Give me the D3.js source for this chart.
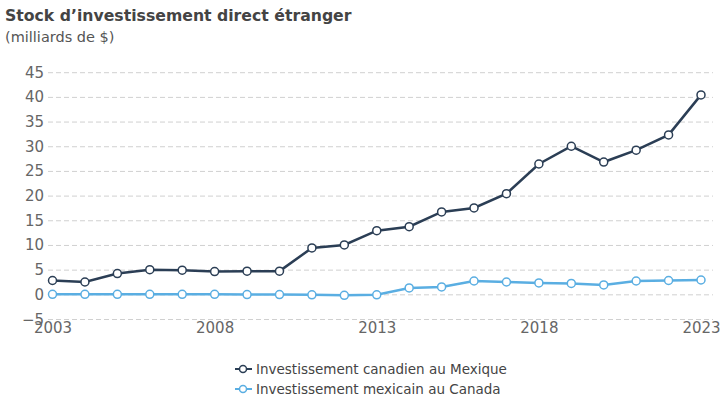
<!DOCTYPE html>
<html><head><meta charset="utf-8">
<script src="https://cdn.jsdelivr.net/npm/d3@7"></script>
<style>
body{margin:0;background:#fff;}
svg{display:block;font-family:"DejaVu Sans",Verdana,sans-serif;}
</style></head>
<body><svg id="c" width="722" height="402"></svg>
<script>
const years = [2003,2004,2005,2006,2007,2008,2009,2010,2011,2012,2013,2014,2015,2016,2017,2018,2019,2020,2021,2022,2023];
const canInMex = [2.9,2.6,4.3,5.1,5.0,4.7,4.8,4.8,9.5,10.1,13.0,13.8,16.8,17.6,20.5,26.5,30.1,26.9,29.3,32.4,40.5];
const mexInCan = [0.1,0.1,0.1,0.1,0.1,0.1,0.05,0.05,0.0,-0.1,0.0,1.4,1.6,2.8,2.6,2.4,2.3,2.0,2.8,2.9,3.0];
const yTicks = [-5,0,5,10,15,20,25,30,35,40,45];
const xTicks = [2003,2008,2013,2018,2023];
const seriesNames = ["Investissement canadien au Mexique","Investissement mexicain au Canada"];
const colors = ["#2b3e55","#5aaee2"];

const svg = d3.select("#c");
const x = d3.scaleLinear().domain([2003,2023]).range([52.5,701]);
const y = d3.scaleLinear().domain([-5,45]).range([319.5,72.7]);

svg.append("text").attr("x",5).attr("y",21).attr("font-size",15.7).attr("font-weight","bold").attr("fill","#444")
  .text("Stock d\u2019investissement direct étranger");
svg.append("text").attr("x",5).attr("y",42).attr("font-size",14.5).attr("fill","#555")
  .text("(milliards de $)");

// grid
svg.append("g").selectAll("line").data(yTicks).join("line")
  .attr("x1",48).attr("x2",713).attr("y1",d=>y(d)).attr("y2",d=>y(d))
  .attr("stroke","#d0d0d0").attr("stroke-width",1).attr("stroke-dasharray","5,3");

// y axis
const ya = svg.append("g").attr("transform","translate(44,0)")
  .call(d3.axisLeft(y).tickValues(yTicks).tickSize(0).tickPadding(0));
ya.select(".domain").remove();
ya.selectAll("text").attr("font-size",15).attr("fill","#666").attr("font-family","DejaVu Sans, sans-serif").attr("dy","0.3em");

// x axis
const xa = svg.append("g").attr("transform","translate(0,322)")
  .call(d3.axisBottom(x).tickValues(xTicks).tickFormat(d3.format("d")).tickSize(0).tickPadding(0));
xa.select(".domain").remove();
xa.selectAll("text").attr("font-size",15).attr("fill","#666").attr("font-family","DejaVu Sans, sans-serif").attr("dy","0.72em");

const series = [canInMex, mexInCan];
const line = d3.line().x((d,i)=>x(years[i])).y(d=>y(d));
[1,0].forEach(s=>{
  const g = svg.append("g");
  g.append("path").datum(series[s]).attr("d",line).attr("fill","none")
    .attr("stroke",colors[s]).attr("stroke-width",2.5);
  g.selectAll("circle").data(series[s]).join("circle")
    .attr("cx",(d,i)=>x(years[i])).attr("cy",d=>y(d)).attr("r",4)
    .attr("fill","#fff").attr("stroke",colors[s]).attr("stroke-width",1.5);
});

// legend
const lg = svg.append("g");
seriesNames.forEach((n,i)=>{
  const yy = 369 + i*20;
  lg.append("line").attr("x1",235).attr("x2",252).attr("y1",yy).attr("y2",yy)
    .attr("stroke",colors[i]).attr("stroke-width",2);
  lg.append("circle").attr("cx",243).attr("cy",yy).attr("r",3.5)
    .attr("fill","#fff").attr("stroke",colors[i]).attr("stroke-width",1.5);
  lg.append("text").attr("x",256).attr("y",yy).attr("dy","0.35em")
    .attr("font-size",13.5).attr("fill","#444").text(n);
});
</script></body></html>
